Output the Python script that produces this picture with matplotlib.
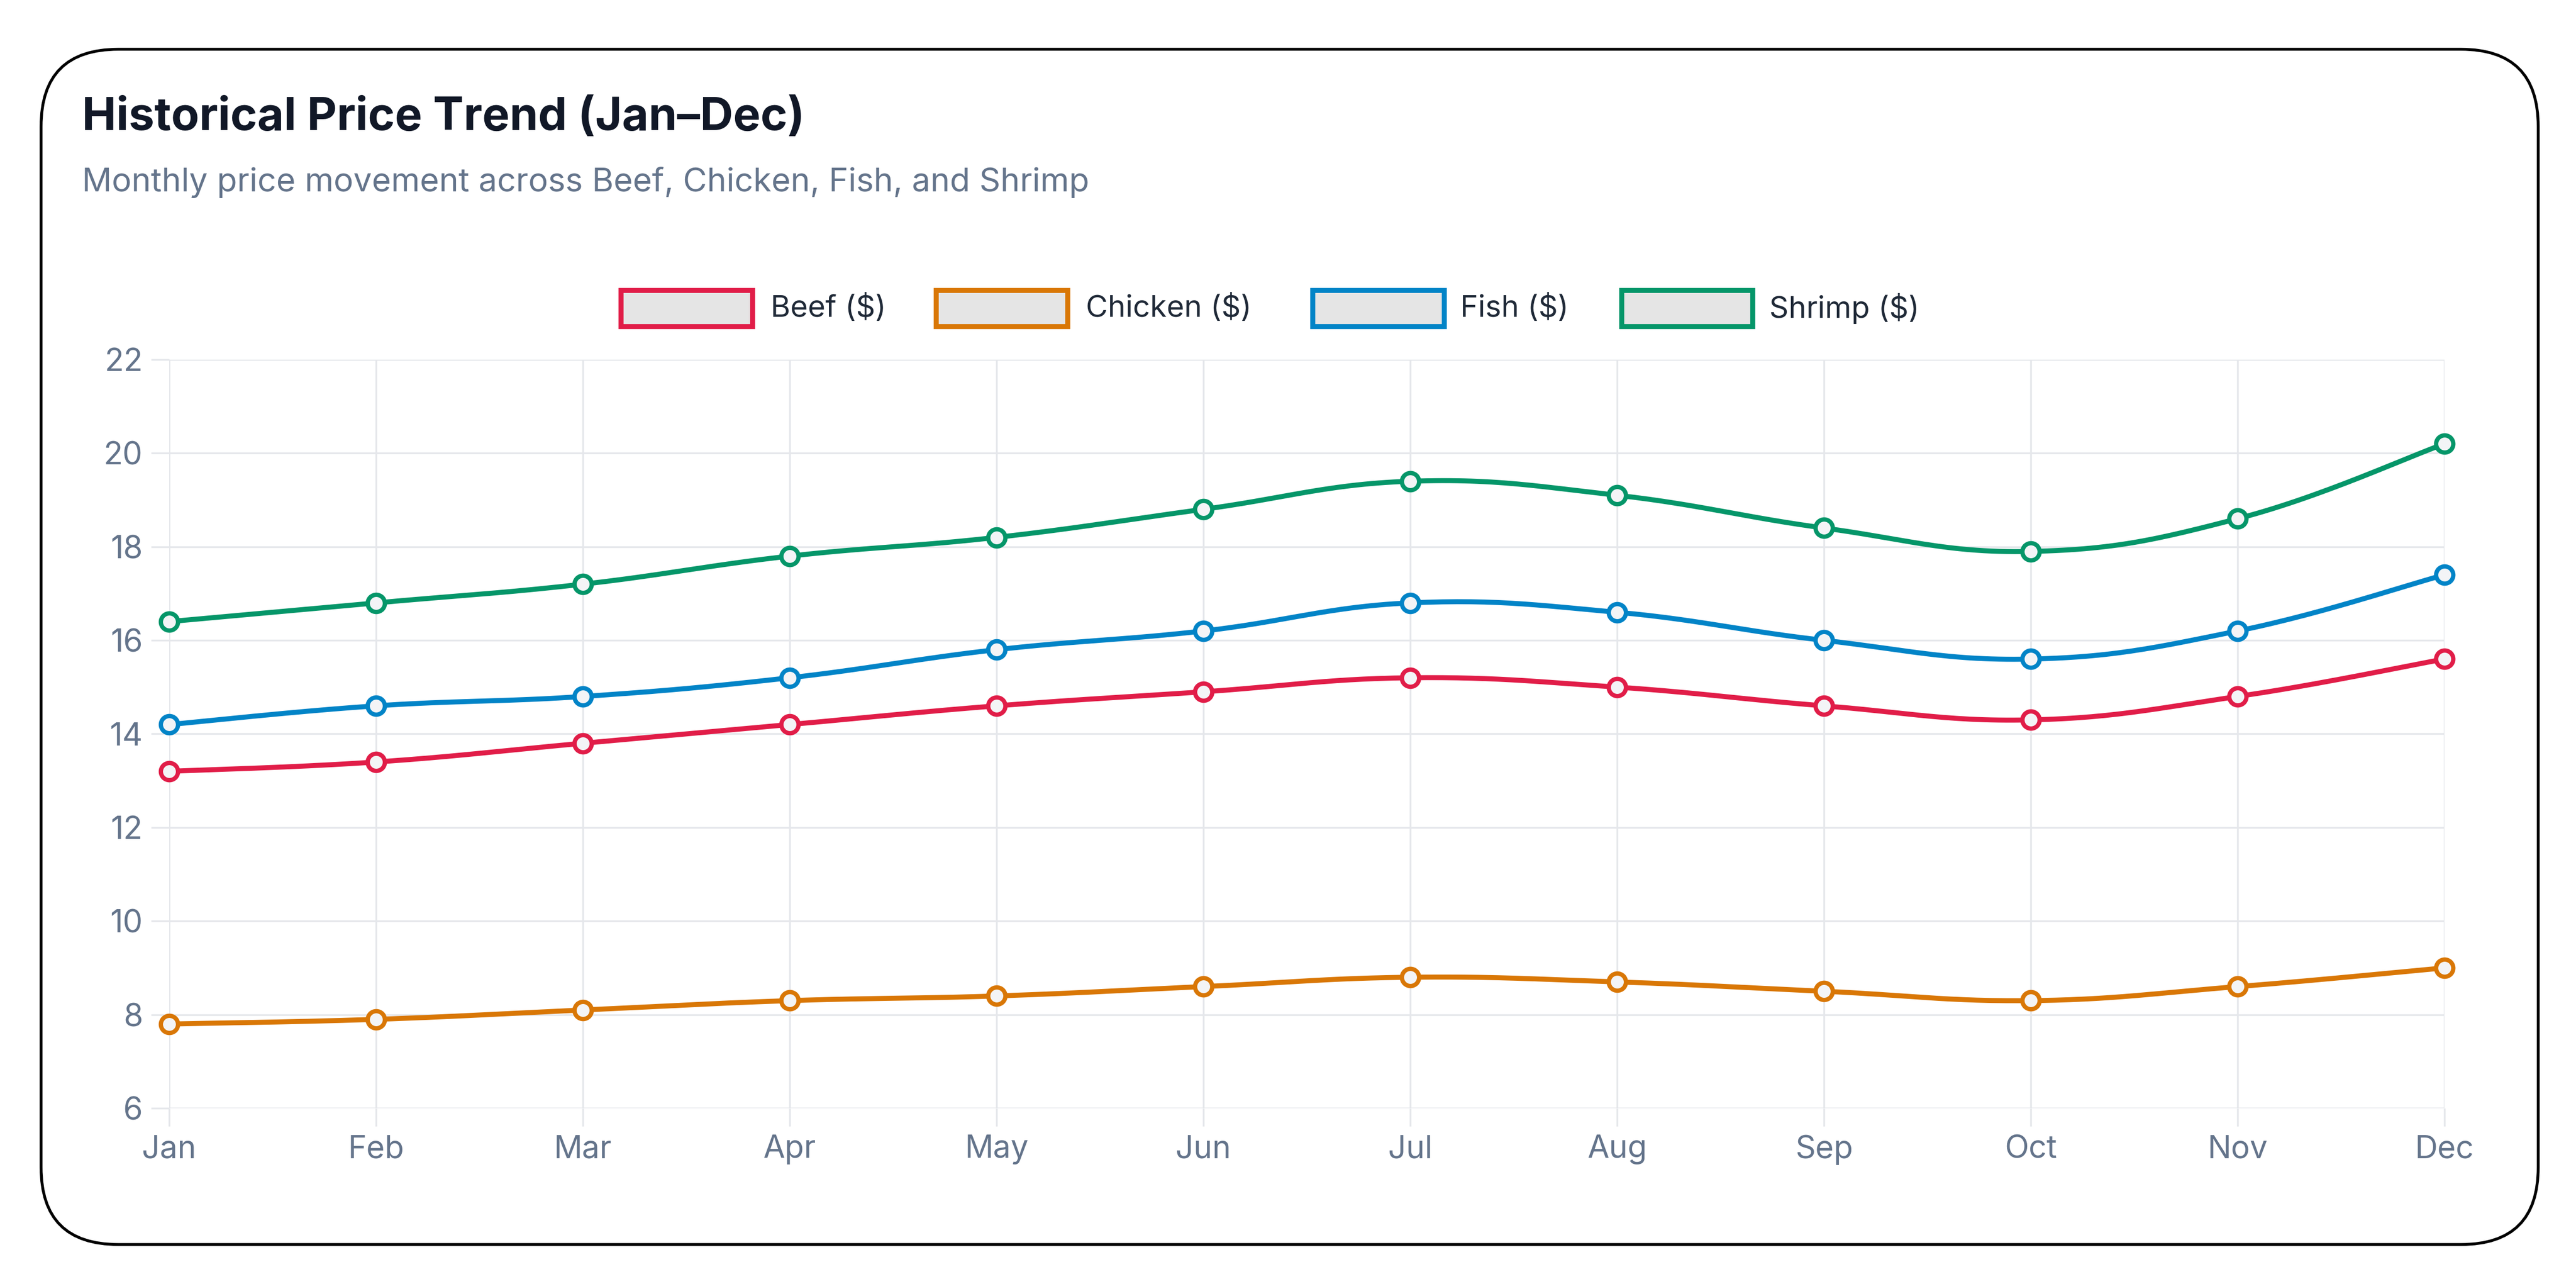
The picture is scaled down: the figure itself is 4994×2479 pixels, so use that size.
import matplotlib
matplotlib.use("Agg")
import matplotlib.pyplot as plt
import numpy as np
from matplotlib.patches import FancyBboxPatch, Rectangle

months = ["Jan","Feb","Mar","Apr","May","Jun","Jul","Aug","Sep","Oct","Nov","Dec"]
beef = [13.2, 13.4, 13.8, 14.2, 14.6, 14.9, 15.2, 15.0, 14.6, 14.3, 14.8, 15.6]
chicken = [7.8, 7.9, 8.1, 8.3, 8.4, 8.6, 8.8, 8.7, 8.5, 8.3, 8.6, 9.0]
fish = [14.2, 14.6, 14.8, 15.2, 15.8, 16.2, 16.8, 16.6, 16.0, 15.6, 16.2, 17.4]
shrimp = [16.4, 16.8, 17.2, 17.8, 18.2, 18.8, 19.4, 19.1, 18.4, 17.9, 18.6, 20.2]
series = [("Beef ($)", beef, "#e11d48"), ("Chicken ($)", chicken, "#d97706"),
          ("Fish ($)", fish, "#0284c7"), ("Shrimp ($)", shrimp, "#059669")]

W, H = 1568, 779
fig = plt.figure(figsize=(49.94, 24.79), dpi=100)
plt.rcParams['font.family'] = ['Inter', 'DejaVu Sans']

card = FancyBboxPatch((25/W, 1-758/H), 1520/W, 728/H, boxstyle="round,pad=0,rounding_size=0.03",
                      transform=fig.transFigure, fc="none", ec="black", lw=4, mutation_aspect=W/H,
                      zorder=10)
fig.patches.append(card)

fig.text(50/W, 1-72/H, "Historical Price Trend (Jan–Dec)", fontsize=64, fontweight="bold",
         color="#111827", va="center")
fig.text(50/W, 1-111/H, "Monthly price movement across Beef, Chicken, Fish, and Shrimp",
         fontsize=46, color="#64748b", va="center")

ax = fig.add_axes([103/W, 1-675/H, (1488-103)/W, (675-219)/H])
x = np.arange(len(months))

def smooth(xs, ys, t=0.4, n=30):
    xs = np.asarray(xs, float); ys = np.asarray(ys, float)
    px, py = [], []
    for i in range(len(xs)-1):
        p0 = (xs[i], ys[i]); p3 = (xs[i+1], ys[i+1])
        prev = (xs[i-1], ys[i-1]) if i > 0 else p0
        nxt = (xs[i+2], ys[i+2]) if i+2 < len(xs) else p3
        c1 = (p0[0] + t*(p3[0]-prev[0])/2, p0[1] + t*(p3[1]-prev[1])/2)
        c2 = (p3[0] - t*(nxt[0]-p0[0])/2, p3[1] - t*(nxt[1]-p0[1])/2)
        s = np.linspace(0, 1, n)
        bx = (1-s)**3*p0[0] + 3*(1-s)**2*s*c1[0] + 3*(1-s)*s**2*c2[0] + s**3*p3[0]
        by = (1-s)**3*p0[1] + 3*(1-s)**2*s*c1[1] + 3*(1-s)*s**2*c2[1] + s**3*p3[1]
        px.extend(bx); py.extend(by)
    return px, py

for name, vals, col in series:
    sx, sy = smooth(x, vals)
    ax.plot(sx, sy, color=col, lw=7, zorder=3, solid_capstyle="round", clip_on=False)
    ax.plot(x, vals, 'o', ms=24, mfc="#f3f4f6", mec=col, mew=6, zorder=4, clip_on=False)

ax.set_xlim(0, 11)
ax.set_ylim(6, 22)
ax.set_yticks(range(6, 23, 2))
ax.set_xticks(x)
ax.set_xticklabels(months)
ax.grid(True, color="#e5e7eb", lw=2.5)
for s in ax.spines.values():
    s.set_visible(False)
ax.tick_params(axis='both', labelsize=44, colors="#e5e7eb", labelcolor="#64748b", length=25, width=2.5, pad=12)
ax.set_axisbelow(True)

legend = [(378, 469), (570, 661), (799, 889), (987, 1077)]
for (bx, tx), (name, vals, col) in zip(legend, series):
    fig.patches.append(Rectangle((bx/W, 1-199/H), 80/W, 22/H, transform=fig.transFigure,
                                 fc="#e5e5e5", ec=col, lw=7))
    fig.text(tx/W, 1-188/H, name, fontsize=42, color="#1f2937", va="center")

fig.savefig("out.png", dpi=100)
